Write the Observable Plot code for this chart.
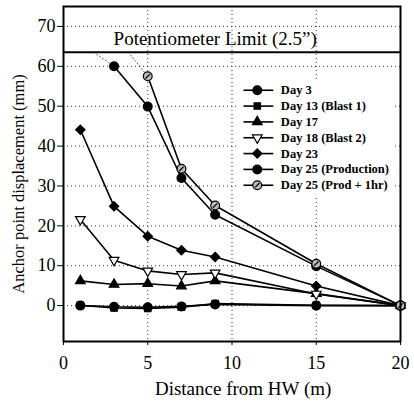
<!DOCTYPE html>
<html>
<head>
<meta charset="utf-8">
<script src="https://cdn.jsdelivr.net/npm/d3@7"></script>
<script src="https://cdn.jsdelivr.net/npm/@observablehq/plot@0.6"></script>
<style>
  html, body { margin: 0; padding: 0; background: #fff; }
  #chart svg { display: block; }
  #chart svg, #chart svg text { font-family: "Liberation Serif", "Times New Roman", serif !important; }
</style>
</head>
<body>
<div id="chart"></div>
<script>
// ---- data ----
const seriesNames = ["Day 3", "Day 13 (Blast 1)", "Day 17", "Day 18 (Blast 2)", "Day 23", "Day 25 (Production)", "Day 25 (Prod + 1hr)"];
const distances = [1, 3, 5, 7, 9, 15, 20];
const day3 = [0, -0.3, -0.4, -0.2, 0.3, 0, 0];
const day13 = [0.1, -0.6, -0.7, -0.4, 0.5, 0.1, 0];
const day17 = [6.2, 5.3, 5.5, 4.9, 6.2, 3.0, 0];
const day18 = [21.6, 11.4, 8.7, 7.8, 8.2, 2.9, 0];
const day23 = [44.1, 24.9, 17.4, 13.9, 12.2, 4.9, 0];
const prodDistances = [3, 5, 7, 9, 15, 20];
const day25prod = [60, 49.9, 32, 22.8, 9.9, 0];
const prod1hrDistances = [5, 7, 9, 15, 20];
const day25prod1hr = [57.5, 34.3, 25.1, 10.5, 0];
// off-scale extensions (dotted), clipped at the potentiometer limit
const prodOffX = [1.8, 3], prodOffY = [63.5, 60];
const prod1hrOffX = [3.85, 5], prod1hrOffY = [63.5, 57.5];
const limitValue = 63.5;
const limitLabel = "Potentiometer Limit (2.5\u201d)";
const xTitle = "Distance from HW (m)";
const yTitle = "Anchor point displacement (mm)";
const yTicks = [0, 10, 20, 30, 40, 50, 60, 70];
const xTicks = [0, 5, 10, 15, 20];
const xGrid = [5, 10, 15];

// ---- custom symbols ----
const triangleDown = {
  draw(context, size) {
    const sqrt3 = Math.sqrt(3);
    const y = -Math.sqrt(size / (sqrt3 * 3));
    context.moveTo(0, -y * 2);
    context.lineTo(-sqrt3 * y, y);
    context.lineTo(sqrt3 * y, y);
    context.closePath();
  }
};
const hatchCircle = {
  draw(context, size) {
    const r = Math.sqrt(size / Math.PI);
    context.moveTo(r, 0);
    context.arc(0, 0, r, 0, 2 * Math.PI);
    context.moveTo(-r * 0.5, r * 0.5);
    context.lineTo(r * 0.5, -r * 0.5);
  }
};

const styles = {
  "Day 3": {symbol: "circle", fill: "black", r: 4.4},
  "Day 13 (Blast 1)": {symbol: "square", fill: "black", r: 3.6},
  "Day 17": {symbol: "triangle", fill: "black", r: 3.6},
  "Day 18 (Blast 2)": {symbol: triangleDown, fill: "white", r: 3.6},
  "Day 23": {symbol: "diamond2", fill: "black", r: 4.2},
  "Day 25 (Production)": {symbol: "circle", fill: "black", r: 4.4},
  "Day 25 (Prod + 1hr)": {symbol: hatchCircle, fill: "#bbb", r: 4.4}
};

function rows(name, xs, ys) { return xs.map((x, i) => ({series: name, x, y: ys[i]})); }
const data = [
  ...rows(seriesNames[0], distances, day3),
  ...rows(seriesNames[1], distances, day13),
  ...rows(seriesNames[2], distances, day17),
  ...rows(seriesNames[3], distances, day18),
  ...rows(seriesNames[4], distances, day23),
  ...rows(seriesNames[5], prodDistances, day25prod),
  ...rows(seriesNames[6], prod1hrDistances, day25prod1hr)
];
const offData = [
  ...rows("a", prodOffX, prodOffY),
  ...rows("b", prod1hrOffX, prod1hrOffY)
];

// legend rows placed in data space
const legendTop = 54, legendStep = 3.97;
const legend = seriesNames.map((name, i) => ({name, y: legendTop - i * legendStep}));

const dotMarks = seriesNames.map(name => {
  const s = styles[name];
  return Plot.dot(data.filter(d => d.series === name), {
    x: "x", y: "y", symbol: () => s.symbol, r: s.r, fill: s.fill, stroke: "black", strokeWidth: 1.2
  });
});
const legendDots = legend.map(l => {
  const s = styles[l.name];
  return Plot.dot([l], {x: () => 11.5, y: "y", symbol: () => s.symbol, r: s.r, fill: s.fill, stroke: "black", strokeWidth: 1.2});
});

const chart = Plot.plot({
  width: 414,
  height: 405,
  marginLeft: 63,
  marginRight: 14,
  marginTop: 6,
  marginBottom: 64,
  style: {fontSize: "15px", color: "black", background: "white"},
  symbol: {type: "identity"},
  x: {domain: [0, 20], ticks: xTicks, tickSize: 4, tickPadding: 12, label: null},
  y: {domain: [-9, 75], ticks: yTicks, tickSize: 6, tickPadding: 2, label: null},
  marks: [
    Plot.ruleY(yTicks, {stroke: "black", strokeWidth: 1, strokeDasharray: "1,3", strokeOpacity: 0.8}),
    Plot.ruleX(xGrid, {stroke: "black", strokeWidth: 1, strokeDasharray: "1,3", strokeOpacity: 0.8}),
    Plot.line(offData, {x: "x", y: "y", z: "series", stroke: "black", strokeWidth: 1, strokeDasharray: "1,2.5", strokeOpacity: 0.7}),
    Plot.line(data, {x: "x", y: "y", z: "series", stroke: "black", strokeWidth: 1.6}),
    ...dotMarks,
    Plot.ruleY([limitValue], {stroke: "black", strokeWidth: 2}),
    Plot.text([limitLabel], {x: () => 9, y: () => 66.8, text: d => d, fontSize: 19, fill: "black"}),
    // legend
    Plot.rect([0], {x1: () => 10.3, x2: () => 19.6, y1: () => 56, y2: () => 27.3, fill: "white"}),
    Plot.link(legend, {x1: () => 10.68, x2: () => 12.45, y1: "y", y2: "y", stroke: "black", strokeWidth: 1.6}),
    ...legendDots,
    Plot.text(legend, {x: () => 12.9, y: "y", text: "name", textAnchor: "start", fontSize: 12.5, fontWeight: "bold", fill: "black"}),
    Plot.frame({stroke: "black", strokeWidth: 2}),
    Plot.axisX({ticks: xTicks, tickSize: 4, tickPadding: 11, fontSize: 18, label: null}),
    Plot.axisY({ticks: yTicks, tickSize: 6, tickPadding: 2, fontSize: 18, label: null}),
    Plot.text([xTitle], {x: () => 10.66, y: () => -20.9, text: d => d, fontSize: 19, fill: "black", clip: false}),
    Plot.text([yTitle], {x: () => -2.67, y: () => 30.5, text: d => d, rotate: -90, fontSize: 16.5, fill: "black", clip: false})
  ]
});
document.getElementById("chart").appendChild(chart);
</script>
</body>
</html>
